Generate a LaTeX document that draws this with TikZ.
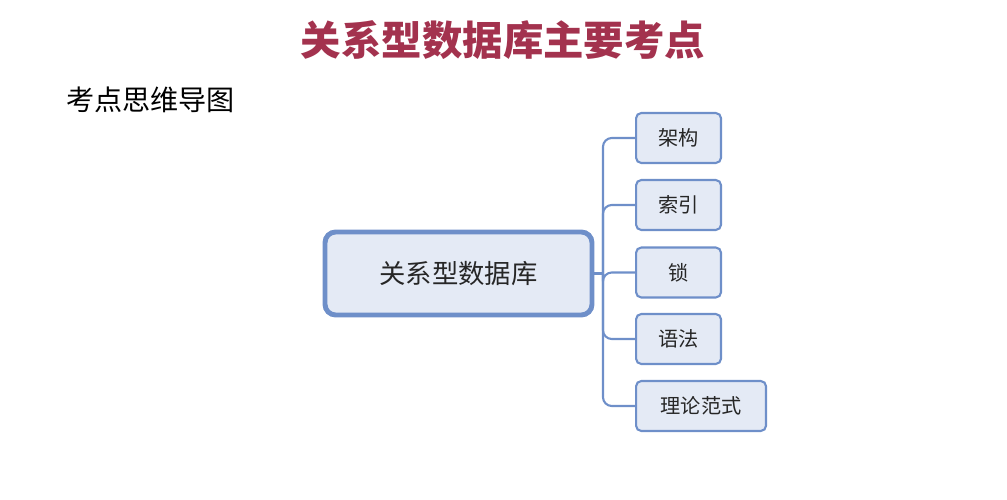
\documentclass[tikz,border=0pt]{standalone}
\usepackage{fontspec}
\newfontfamily\cjk{Noto Sans CJK SC}
\usetikzlibrary{positioning}
\definecolor{titlered}{HTML}{A3324E}
\definecolor{boxline}{HTML}{6E8FC9}
\definecolor{boxfill}{HTML}{E4EAF5}
\tikzset{
  leafbox/.style={rectangle, rounded corners=3pt, draw=boxline, line width=1.2pt, fill=boxfill, minimum height=1cm, font=\cjk\fontsize{11.5}{13}\selectfont, text=black!85},
  link/.style={draw=boxline, line width=1.2pt, rounded corners=5pt}
}
\begin{document}
\begin{tikzpicture}[x=0.02cm, y=-0.02cm]
    \useasboundingbox (0,0) rectangle (1007,500);
    \node (title) at (503,40) [font=\cjk\bfseries\fontsize{23}{26}\selectfont, text=titlered] {关系型数据库主要考点};
    \node (sub) at (60,100) [anchor=west, font=\cjk\fontsize{16}{18}\selectfont] {考点思维导图};
    \node (db) at (458.5,273.5) [rectangle, rounded corners=6pt, draw=boxline, line width=2.8pt, fill=boxfill, minimum width=5.34cm, minimum height=1.66cm, font=\cjk\fontsize{15}{17}\selectfont, text=black!85] {关系型数据库};
    \node (arch) at (635,138) [leafbox, anchor=west, minimum width=1.7cm] {架构};
    \node (idx) at (635,205) [leafbox, anchor=west, minimum width=1.7cm] {索引};
    \node (lock) at (635,272.5) [leafbox, anchor=west, minimum width=1.7cm] {锁};
    \node (sql) at (635,339) [leafbox, anchor=west, minimum width=1.7cm] {语法};
    \node (nf) at (635,406) [leafbox, anchor=west, minimum width=2.6cm] {理论范式};
    \coordinate (trunk) at (603,273.5);
    \draw[link] (db.east) -- (trunk);
    \foreach \c in {arch,idx,lock,sql,nf}
        \draw[link] (trunk) |- (\c.west);
\end{tikzpicture}
\end{document}
